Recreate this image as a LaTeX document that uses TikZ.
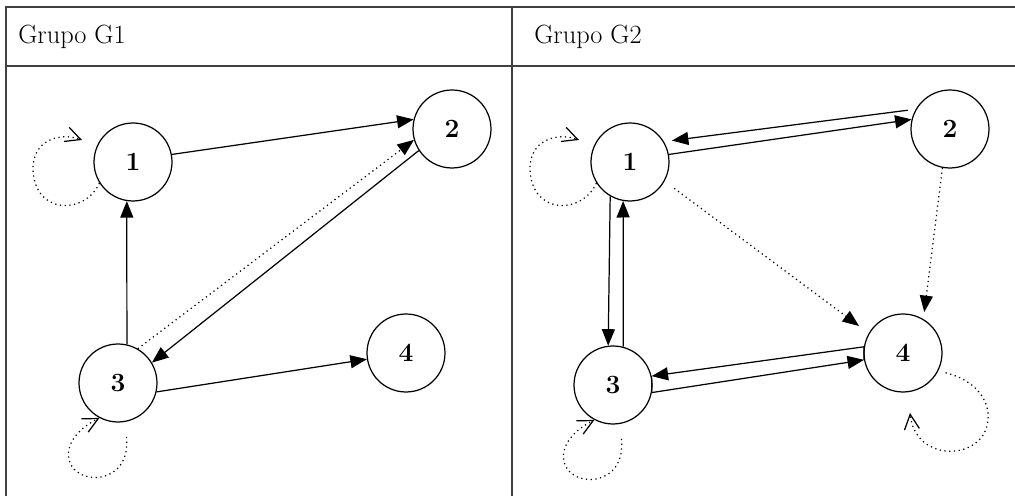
\documentclass[tikz,border=0pt]{standalone}
\usepackage{tikz}
\usetikzlibrary{arrows.meta,calc}
\tikzset{
    state/.style={
        circle,
        draw,
        line width=0.7pt,
        minimum size=1.56cm,
        inner sep=0pt,
        font=\fontsize{15}{18}\selectfont\bfseries
    },
    link/.style={-{Triangle[length=0.33cm,width=0.26cm]}, line width=0.7pt},
    dotlink/.style={link, dotted},
    selfloop/.style={-{Straight Barb[length=0.3cm,width=0.3cm]}, dotted, line width=0.7pt},
    gridline/.style={line width=1.1pt, black!75},
    header/.style={anchor=base west, inner sep=0pt, font=\fontsize{15}{18}\selectfont}
}

\begin{document}
\begin{tikzpicture}[x=0.02cm, y=-0.02cm]
    \useasboundingbox (0,0) rectangle (1015,496);

    % table
    \draw[gridline] (6,496) -- (6,7) -- (1015,7);
    \draw[gridline] (6,66) -- (1015,66);
    \draw[gridline] (512,7) -- (512,496);
    \node[header] (h1) at (18,44) {Grupo G1};
    \node[header] (h2) at (534,44) {Grupo G2};

    % group G1
    \node[state] (a1) at (133,162) {1};
    \node[state] (a2) at (452,129) {2};
    \node[state] (a3) at (118,383) {3};
    \node[state] (a4) at (406,353) {4};

    \draw[link] (a1.11) -- (a2.166);
    \draw[dotlink] (a3.60) -- (a2.196);
    \draw[link] (a2.213) -- (a3.31);
    \draw[link] (a3.77) -- (a1.261);
    \draw[link] (a3.347) -- (a4.189);

    \coordinate (t1) at (82,140);
    \draw[selfloop] (a1.212) .. controls (85,215) and (35,215) .. (33,170)
        .. controls (32,140) and (60,132) .. (t1);
    \draw[selfloop, shorten <=0.3cm] (a3.280) .. controls (130,470) and (105,482) .. (85,476)
        .. controls (62,468) and (60,438) .. (a3.242);

    % group G2
    \node[state] (b1) at (630,162) {1};
    \node[state] (b2) at (950,129) {2};
    \node[state] (b3) at (613,385) {3};
    \node[state] (b4) at (903,353) {4};

    \draw[link, shorten <=0.16cm, shorten >=0.16cm] (b2.150) -- (b1.31);
    \draw[link] (b1.11) -- (b2.166);
    \draw[link] (b1.240) -- (b3.97);
    \draw[link] (b3.75) -- (b1.260);
    \draw[link] (b4.171) -- (b3.13);
    \draw[link] (b3.349) -- (b4.190);
    \draw[line width=0.7pt] (b4.171) -- (b4.190);
    \draw[line width=0.7pt] (b3.13) -- (b3.349);
    \draw[dotlink, shorten <=0.24cm, shorten >=0.24cm] (b1.331) -- (b4.150);
    \draw[dotlink, shorten >=0.14cm] (b2.259) -- (b4.59);

    \coordinate (t5) at (579,140);
    \draw[selfloop] (b1.212) .. controls (582,215) and (532,215) .. (530,170)
        .. controls (529,140) and (557,132) .. (t5);
    \draw[selfloop, shorten <=0.3cm] (b3.280) .. controls (625,472) and (600,484) .. (580,478)
        .. controls (557,470) and (555,440) .. (b3.242);
    \coordinate (t8) at (910,413);
    \draw[selfloop, shorten <=0.15cm] (b4.333) .. controls (975,380) and (990,400) .. (988,420)
        .. controls (986,445) and (960,455) .. (940,450)
        .. controls (920,445) and (912,430) .. (t8);
\end{tikzpicture}
\end{document}
